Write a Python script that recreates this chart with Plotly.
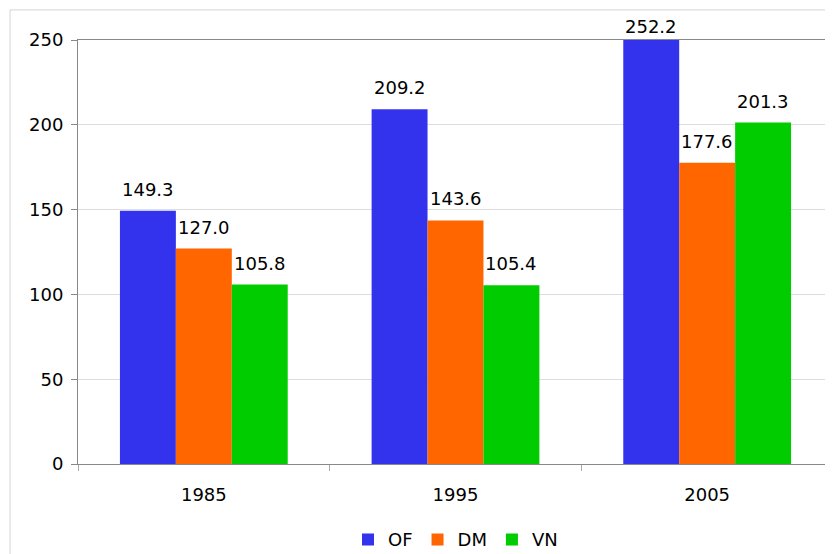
import plotly.graph_objects as go

years = ["1985", "1995", "2005"]
series_names = ["OF", "DM", "VN"]
of_values = [149.3, 209.2, 252.2]
dm_values = [127.0, 143.6, 177.6]
vn_values = [105.8, 105.4, 201.3]
colors = ["#3333ee", "#ff6600", "#00cc00"]

y_max = 250
font_family = "DejaVu Sans"
bar_gap = 1 / 3

fig = go.Figure()
all_values = [of_values, dm_values, vn_values]
for name, vals, col in zip(series_names, all_values, colors):
    fig.add_trace(go.Bar(
        x=years, y=vals, name=name,
        marker=dict(color=col, line=dict(width=0)),
    ))

# value labels above each bar (clamped at the top of the axis)
bar_w = (1 - bar_gap) / len(series_names)
for j, vals in enumerate(all_values):
    for i, v in enumerate(vals):
        clipped = v > y_max
        fig.add_annotation(
            x=i + (j - 1) * bar_w, y=min(v, y_max),
            xref="x", yref="y",
            text=f"{v:.1f}", showarrow=False,
            yanchor="bottom", yshift=1 if clipped else 9,
            font=dict(size=18, color="black", family=font_family),
        )

# light outer frame
fig.add_shape(type="rect", xref="paper", yref="paper",
              x0=-0.09, y0=-0.4, x1=1.1, y1=1.071,
              line=dict(color="#d4d4d4", width=1), fillcolor="rgba(0,0,0,0)")

# page body has an 8px margin, so the figure is a bit smaller than the window
fig.update_layout(
    width=825, height=546,
    margin=dict(l=70, r=0, t=32, b=90, autoexpand=False),
    paper_bgcolor="white", plot_bgcolor="white",
    barmode="group", bargap=bar_gap, bargroupgap=0,
    font=dict(family=font_family, size=18, color="black"),
    showlegend=True,
    legend=dict(orientation="h", x=0.5, xanchor="center", y=-0.135, yanchor="top",
                font=dict(size=18), itemwidth=30, traceorder="normal"),
    xaxis=dict(
        automargin=False,
        showline=True, linecolor="#888888", linewidth=1, mirror=True,
        ticks="outside", tickson="boundaries", ticklen=6, tickcolor="#aaaaaa",
        ticklabelstandoff=14, showgrid=False,
    ),
    yaxis=dict(
        automargin=False,
        range=[0, y_max], dtick=50,
        showline=True, linecolor="#888888", linewidth=1,
        ticks="outside", ticklen=6, tickcolor="#888888",
        ticklabelstandoff=4,
        showgrid=True, gridcolor="#dddddd", gridwidth=1,
        zeroline=False,
    ),
)

fig.write_html("out.html")
